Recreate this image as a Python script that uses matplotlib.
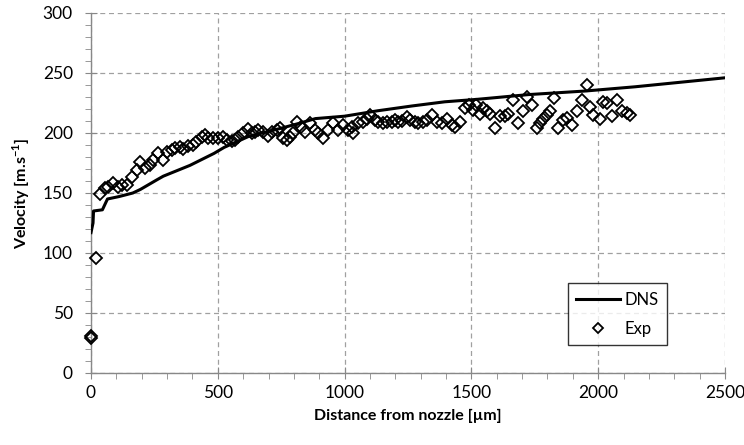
import numpy as np
import matplotlib.pyplot as plt
from matplotlib.ticker import MultipleLocator

plt.rcParams['font.family'] = ['Lato', 'DejaVu Sans']
plt.rcParams['mathtext.fontset'] = 'custom'
plt.rcParams['mathtext.rm'] = 'Lato'
plt.rcParams['mathtext.bf'] = 'Lato:bold'

# DNS centreline velocity
dns_x = [0, 8, 10, 45, 65, 110, 165, 195, 260, 285, 390, 485, 525, 620, 750,
         820, 885, 1000, 1130, 1265, 1395, 1520, 1725, 1950, 2145, 2500]
dns_v = [117, 125, 135, 136, 145, 147, 150, 153, 161, 164, 173, 183, 188, 197,
         204, 208, 212, 214, 218.5, 222.5, 226, 228, 232, 235, 238.5, 246]

# experimental points
exp_x = [0, 2, 18, 35, 55, 68, 88, 108, 121, 141, 160, 180, 193, 213, 233, 246,
         265, 285, 298, 318, 331, 351, 364, 384, 403, 416, 436, 450, 463, 482,
         502, 521, 535, 555, 568, 581, 600, 620, 633, 647, 660, 679, 699, 712,
         732, 745, 758, 771, 784, 798, 811, 828, 844, 864, 883, 896, 916, 936,
         955, 975, 995, 1015, 1028, 1034, 1054, 1074, 1087, 1100, 1120, 1133,
         1153, 1166, 1186, 1199, 1212, 1225, 1245, 1258, 1278, 1291, 1310, 1323,
         1346, 1363, 1383, 1402, 1422, 1435, 1455, 1475, 1491, 1507, 1520, 1534,
         1547, 1560, 1573, 1593, 1613, 1632, 1645, 1665, 1685, 1704, 1718, 1738,
         1757, 1770, 1783, 1797, 1810, 1827, 1843, 1862, 1876, 1895, 1915, 1935,
         1955, 1968, 1981, 2007, 2020, 2033, 2053, 2073, 2092, 2112, 2125]
exp_v = [29, 31, 96, 149, 154, 155, 158, 155, 157, 157, 163, 169, 176, 170.6,
         173, 177.5, 183, 177.5, 184.4, 186, 187.6, 188.6, 187, 189, 190, 192.8,
         197, 198, 196, 195.6, 196, 197, 194, 193, 194, 197, 200, 203, 200, 201,
         202.5, 201, 197.5, 201, 202.5, 204, 195.6, 194, 197, 200, 209.4, 205,
         201, 208, 202.5, 200, 195.6, 202.5, 208, 202.5, 206.7, 202.5, 205, 200,
         208, 209.4, 212, 215, 211, 209.4, 208.6, 209, 209.4, 211, 209.4, 210,
         213.6, 211, 209.4, 208, 209.4, 211, 215, 209.4, 208, 212, 206.7, 205,
         209.4, 220.6, 223, 219, 223, 216, 220.6, 218, 216, 204, 214, 214, 216,
         227.5, 208, 218, 230, 223, 204, 208, 212, 215, 218, 229, 204, 211,
         212.5, 206.7, 218, 227.5, 240, 222, 215, 212, 226, 225, 214, 227.5,
         218, 216.7, 215]


def main():
    fig = plt.figure(figsize=(7.44, 4.45), dpi=100)
    ax = fig.add_axes([0.1223, 0.1618, 0.8522, 0.809])

    ax.plot(dns_x, dns_v, color='black', lw=2.2, label='DNS', zorder=3)
    ax.plot(exp_x, exp_v, ls='none', marker='D', ms=6.5, mfc='none',
            mec='black', mew=1.3, label='Exp', zorder=4, clip_on=False)

    ax.set_xlim(0, 2500)
    ax.set_ylim(0, 300)
    ax.xaxis.set_major_locator(MultipleLocator(500))
    ax.xaxis.set_minor_locator(MultipleLocator(100))
    ax.yaxis.set_major_locator(MultipleLocator(50))
    ax.yaxis.set_minor_locator(MultipleLocator(10))

    ax.grid(True, which='major', color='#a0a0a0', ls=(0, (4, 3)), lw=0.9)
    for s in ['top', 'right']:
        ax.spines[s].set_visible(False)
    for s in ['left', 'bottom']:
        ax.spines[s].set_color('#888888')
        ax.spines[s].set_linewidth(1.0)

    ax.tick_params(which='major', direction='inout', length=8, color='#888888',
                   labelsize=12.5)
    ax.tick_params(axis='y', which='major', pad=9)
    ax.tick_params(axis='x', which='major', pad=5)
    ax.tick_params(which='minor', direction='out', length=4, color='#888888')

    ax.set_xlabel('Distance from nozzle [µm]', fontsize=11.5, fontweight='bold',
                  labelpad=5)
    ax.set_ylabel(r'Velocity [m.s$^{\mathbf{-1}}$]', fontsize=11.5,
                  fontweight='bold', labelpad=8)

    leg = ax.legend(loc='upper left', bbox_to_anchor=(0.7634, 0.363),
                    bbox_transform=fig.transFigure, fancybox=False,
                    edgecolor='black', fontsize=12, handlelength=2.6,
                    markerfirst=True, borderpad=0.5, labelspacing=0.8,
                    borderaxespad=0, handletextpad=0.3, markerscale=0.8)
    leg.get_frame().set_linewidth(1.0)

    fig.savefig('out.png', dpi=100)


if __name__ == "__main__":
    main()
